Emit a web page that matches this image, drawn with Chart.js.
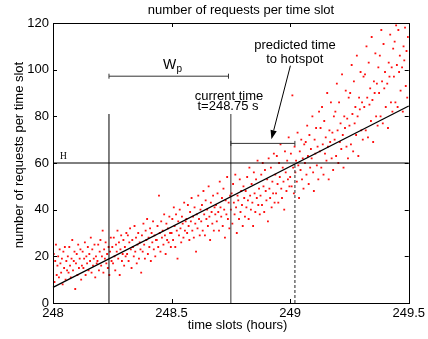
<!DOCTYPE html>
<html><head><meta charset="utf-8">
<script src="https://cdn.jsdelivr.net/npm/chart.js@4.4.1/dist/chart.umd.min.js"></script>
<style>html,body{margin:0;padding:0;background:#fff}</style>
</head><body>
<canvas id="c" width="428" height="339"></canvas>
<script>
// ---- data ----
const xTicks = [248, 248.5, 249, 249.5];
const yTicks = [0, 20, 40, 60, 80, 100, 120];
const firstSlot = 248;          // hours
const slotStep = 1 / 320;       // one time slot
const requests = [
 14,21,9,18,25,12,16,20,11,23,17,13,19,8,22,15,24,10,18,14,
 20,13,24,16,11,19,27,14,18,22,6,17,21,12,25,15,19,23,10,16,
 22,15,19,26,12,20,17,24,14,21,18,28,13,23,16,19,25,11,20,17,
 18,25,14,22,27,16,20,31,13,23,19,26,17,21,15,24,12,22,28,18,
 24,17,28,20,14,25,22,31,19,26,12,23,29,18,21,27,16,24,20,30,
 21,29,18,26,32,23,15,27,24,20,33,22,28,17,25,30,19,26,23,13,
 29,22,34,25,19,31,27,36,21,28,24,32,18,30,26,35,23,29,20,27,
 27,33,24,46,30,22,35,28,31,25,38,29,21,34,27,32,26,37,30,24,
 30,36,27,41,33,24,38,31,19,35,29,40,32,26,37,34,28,43,31,35,
 36,30,42,33,27,39,35,45,31,37,28,41,34,22,38,32,46,36,29,40,
 35,42,31,48,38,29,44,36,40,33,50,37,27,43,39,34,46,31,41,38,
 42,35,47,39,31,52,41,37,45,33,49,40,28,44,38,54,36,43,32,46,
 40,47,34,51,43,38,55,41,30,46,44,36,53,39,48,42,33,50,45,37,
 48,41,54,44,36,58,46,40,51,43,33,56,47,39,53,45,61,42,49,38,
 46,55,42,60,50,39,57,48,44,53,35,62,49,45,58,41,52,47,64,43,
 55,47,63,51,43,60,54,68,49,45,58,52,40,65,56,48,61,53,71,50,
 54,64,50,89,58,47,67,56,61,52,73,59,45,65,57,70,53,62,49,68,
 60,69,55,76,63,51,72,58,66,62,80,56,48,70,64,75,59,67,53,82,
 65,75,58,84,68,55,78,64,71,61,90,67,53,74,69,86,62,73,57,80,
 70,82,63,94,74,60,86,69,77,66,98,72,58,80,75,91,67,79,62,88,
 76,90,68,102,81,65,95,77,84,72,106,80,63,88,83,99,74,86,70,97,
 84,98,74,110,88,71,103,85,92,78,114,87,69,95,90,107,80,94,76,101,
 90,106,80,117,95,77,111,92,99,84,120,94,75,103,97,115,86,101,82,109,
 97,112,86,119,102,84,117,99,106,91,120,101,82,110,104,118,93,108,88,114
];
const fitX = [248, 249.5];
const fitY = [6.7, 84.4];
const hotspotLevel = 60;
const windowStart = 248.236;
const currentTime = 248.75;
const predictedTime = 249.02;
const windowTop = 81, currentTop = 81;
const wpBracketY = 97.2, wpBracketEnd = 248.74;
const predBracketY = 68.4;
const arrowFrom = {x: 249.001, y: 101.7}, arrowTo = {x: 248.921, y: 70.2};

const FONT = '"Liberation Sans", Arial, Helvetica, sans-serif';

const pts = requests.map((v, i) => ({x: firstSlot + i * slotStep, y: v}));
const lineDs = (data, extra) => Object.assign({
  data, showLine: true, pointRadius: 0, borderColor: '#000', borderWidth: 1,
  backgroundColor: '#000', order: 0, clip: false
}, extra || {});

const overlay = {
  id: 'overlay',
  afterDatasetsDraw(chart) {
    const ctx = chart.ctx, a = chart.chartArea;
    const xs = chart.scales.x, ys = chart.scales.y;
    ctx.save();
    ctx.strokeStyle = '#000'; ctx.lineWidth = 1;
    ctx.strokeRect(Math.round(a.left) + 0.5, Math.round(a.top) + 0.5,
      Math.round(a.right - a.left), Math.round(a.bottom - a.top));
    const tl = 4;
    ctx.beginPath();
    xTicks.forEach(v => {
      const px = Math.round(xs.getPixelForValue(v)) + 0.5;
      ctx.moveTo(px, a.bottom); ctx.lineTo(px, a.bottom - tl);
      ctx.moveTo(px, a.top); ctx.lineTo(px, a.top + tl);
    });
    yTicks.forEach(v => {
      const py = Math.round(ys.getPixelForValue(v)) + 0.5;
      ctx.moveTo(a.left, py); ctx.lineTo(a.left + tl, py);
      ctx.moveTo(a.right, py); ctx.lineTo(a.right - tl, py);
    });
    ctx.stroke();
    // arrow
    const x1 = xs.getPixelForValue(arrowFrom.x), y1 = ys.getPixelForValue(arrowFrom.y);
    const x2 = xs.getPixelForValue(arrowTo.x), y2 = ys.getPixelForValue(arrowTo.y);
    const ang = Math.atan2(y2 - y1, x2 - x1), hl = 9, hw = 3.2;
    ctx.beginPath(); ctx.moveTo(x1, y1);
    ctx.lineTo(x2 - hl * Math.cos(ang), y2 - hl * Math.sin(ang)); ctx.stroke();
    ctx.beginPath(); ctx.moveTo(x2, y2);
    ctx.lineTo(x2 - hl * Math.cos(ang) + hw * Math.sin(ang), y2 - hl * Math.sin(ang) - hw * Math.cos(ang));
    ctx.lineTo(x2 - hl * Math.cos(ang) - hw * Math.sin(ang), y2 - hl * Math.sin(ang) + hw * Math.cos(ang));
    ctx.closePath(); ctx.fillStyle = '#000'; ctx.fill();
    // texts
    ctx.fillStyle = '#000';
    ctx.textBaseline = 'middle'; ctx.textAlign = 'center';
    ctx.font = '13px ' + FONT;
    ctx.fillText('number of requests per time slot', 241, 10);
    ctx.fillText('time slots (hours)', 237.5, 325);
    ctx.fillText('current time', 229, 96);
    ctx.fillText('t=248.75 s', 228, 106.5);
    ctx.fillText('predicted time', 295, 45);
    ctx.fillText('to hotspot', 294.7, 59.3);
    ctx.save(); ctx.translate(19, 155); ctx.rotate(-Math.PI / 2);
    ctx.fillText('number of requests per time slot', 0, 0); ctx.restore();
    ctx.textAlign = 'left'; ctx.textBaseline = 'alphabetic';
    ctx.font = '14px ' + FONT;
    ctx.fillText('W', 163, 69);
    ctx.font = '10px ' + FONT;
    ctx.fillText('p', 176.5, 71.5);
    ctx.font = '9.5px "Liberation Serif", "DejaVu Serif", serif';
    ctx.fillText('H', 60, 159);
    ctx.restore();
  }
};

new Chart(document.getElementById('c'), {
  type: 'scatter',
  data: {
    datasets: [
      {data: pts, pointStyle: 'rect', pointRadius: 1.3, borderWidth: 0,
       backgroundColor: '#ff1010', order: 10},
      lineDs(fitX.map((x, i) => ({x, y: fitY[i]})), {borderWidth: 1.2}),
      lineDs([{x: 248, y: hotspotLevel}, {x: 249.5, y: hotspotLevel}]),
      lineDs([{x: windowStart, y: 0}, {x: windowStart, y: windowTop}]),
      lineDs([{x: currentTime, y: 0}, {x: currentTime, y: currentTop}], {borderColor: '#333'}),
      lineDs([{x: predictedTime, y: 0}, {x: predictedTime, y: hotspotLevel}],
        {borderColor: '#555', borderDash: [3, 2], borderWidth: 1.3}),
      lineDs([{x: windowStart, y: wpBracketY}, {x: wpBracketEnd, y: wpBracketY}],
        {borderColor: '#333', pointStyle: 'line', pointRadius: 2.5, pointRotation: 90,
         pointBorderColor: '#333', pointBorderWidth: 1}),
      lineDs([{x: currentTime, y: predBracketY}, {x: predictedTime, y: predBracketY}],
        {borderColor: '#333', pointStyle: 'line', pointRadius: 2.5, pointRotation: 90,
         pointBorderColor: '#333', pointBorderWidth: 1})
    ]
  },
  options: {
    responsive: false, animation: false, devicePixelRatio: 1,
    layout: {padding: {left: 0, top: 23, right: 18, bottom: 0}},
    plugins: {legend: {display: false}, tooltip: {enabled: false}, title: {display: false}},
    scales: {
      x: {
        type: 'linear', min: 248, max: 249.5,
        afterBuildTicks: s => { s.ticks = xTicks.map(v => ({value: v})); },
        afterFit: s => { s.height = 36; },
        grid: {display: false, drawTicks: false}, border: {display: false},
        ticks: {padding: 3, color: '#000', font: {family: FONT, size: 13},
                maxRotation: 0, autoSkip: false, callback: v => String(v)}
      },
      y: {
        type: 'linear', min: 0, max: 120,
        afterBuildTicks: s => { s.ticks = yTicks.map(v => ({value: v})); },
        afterFit: s => { s.width = 53; },
        grid: {display: false, drawTicks: false}, border: {display: false},
        ticks: {padding: 4, color: '#000', font: {family: FONT, size: 13},
                callback: v => String(v)}
      }
    }
  },
  plugins: [overlay]
});
</script>
</body></html>
